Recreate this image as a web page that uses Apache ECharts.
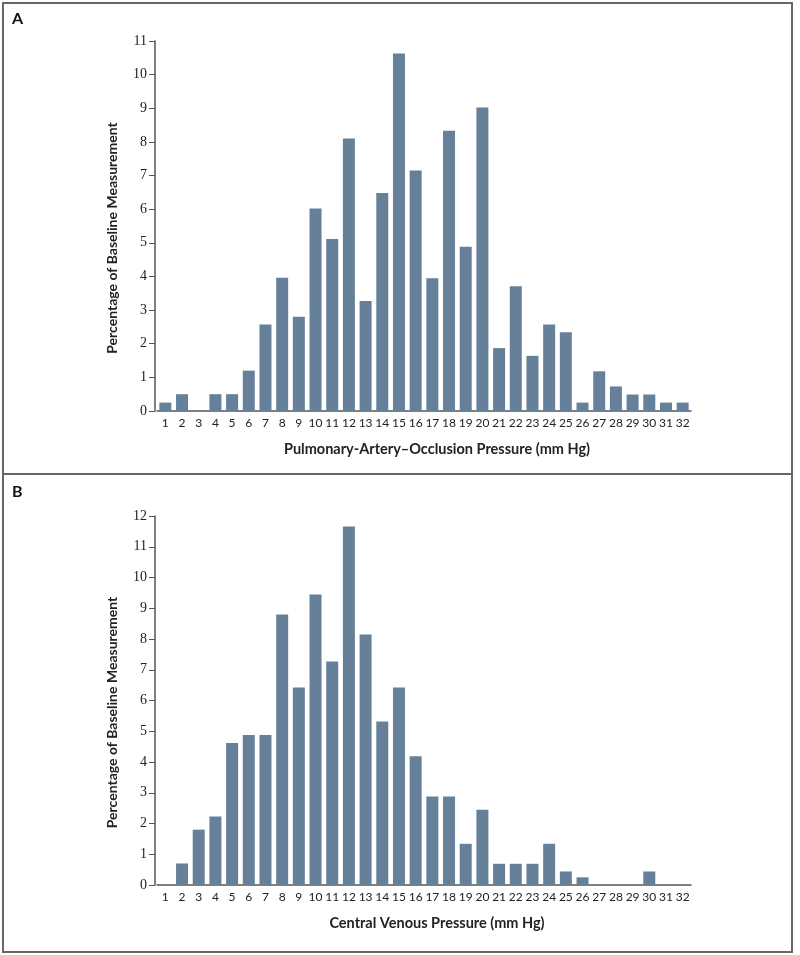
<!DOCTYPE html>
<html lang="en">
<head>
    <meta charset="UTF-8">
    <title>Baseline pressure histograms</title>
    <style>
        body {
            margin: 0;
            background-color: #fff;
        }
    </style>
</head>
<body>
<div id="chart" style="width: 800px;height: 955px;"></div>
<script src="https://cdn.jsdelivr.net/npm/echarts@6/dist/echarts.min.js"></script>
<script>
    /* pressure categories, mm Hg */
    var pressure = ["1","2","3","4","5","6","7","8","9","10","11","12","13","14","15","16",
        "17","18","19","20","21","22","23","24","25","26","27","28","29","30","31","32"];
    /* panel A - pulmonary-artery-occlusion pressure, % of baseline measurements */
    var paop = [0.25, 0.5, 0, 0.5, 0.5, 1.2, 2.57, 3.96, 2.8, 6.02, 5.11, 8.1, 3.27, 6.48, 10.63, 7.15,
        3.95, 8.33, 4.88, 9.02, 1.87, 3.71, 1.64, 2.57, 2.34, 0.25, 1.18, 0.73, 0.49, 0.49, 0.25, 0.25];
    /* panel B - central venous pressure, % of baseline measurements */
    var cvp = [0, 0.7, 1.8, 2.23, 4.62, 4.88, 4.88, 8.8, 6.42, 9.45, 7.27, 11.66, 8.15, 5.32, 6.42, 4.19,
        2.88, 2.88, 1.34, 2.45, 0.69, 0.69, 0.69, 1.34, 0.44, 0.25, 0, 0, 0, 0.44, 0, 0];
    /* y-axis top values */
    var yMaxA = 11;
    var yMaxB = 12;

    var barColor = '#66809a';
    var axisColor = '#555';
    var textColor = '#222';
    var font = 'Lato';

    function xAxisOf(grid, name) {
        return {
            type: 'category',
            gridIndex: grid,
            data: pressure,
            name: name,
            nameLocation: 'middle',
            nameGap: 31,
            nameTextStyle: {
                color: textColor,
                fontFamily: font,
                fontWeight: 'bold',
                fontSize: 14.5,
                padding: [0, 0, 0, 26]
            },
            axisLine: {
                lineStyle: { color: axisColor, width: 1.5 }
            },
            axisTick: {
                alignWithLabel: true,
                length: 5,
                lineStyle: { color: axisColor }
            },
            axisLabel: {
                interval: 0,
                margin: 6,
                color: textColor,
                fontFamily: font,
                fontSize: 12
            }
        };
    }

    function yAxisOf(grid, max) {
        return {
            type: 'value',
            gridIndex: grid,
            min: 0,
            max: max,
            interval: 1,
            offset: 2,
            name: 'Percentage of Baseline Measurement',
            nameLocation: 'middle',
            nameGap: 36,
            nameTextStyle: {
                color: textColor,
                fontFamily: font,
                fontWeight: 'bold',
                fontSize: 14,
                padding: [0, 24, 0, 0]
            },
            axisLine: {
                show: true,
                lineStyle: { color: axisColor, width: 1.5 }
            },
            axisTick: {
                show: true,
                length: 6,
                lineStyle: { color: axisColor }
            },
            axisLabel: {
                margin: 8,
                color: textColor,
                fontFamily: 'Liberation Serif',
                fontSize: 14
            },
            splitLine: { show: false }
        };
    }

    var chart = echarts.init(document.getElementById('chart'));
    var option = {
        animation: false,
        backgroundColor: '#fff',
        /* two stacked panels */
        grid: [
            { left: 157, top: 41, width: 534, height: 370 },
            { left: 157, top: 516, width: 534, height: 369 }
        ],
        xAxis: [
            xAxisOf(0, 'Pulmonary-Artery\u2013Occlusion Pressure (mm Hg)'),
            xAxisOf(1, 'Central Venous Pressure (mm Hg)')
        ],
        yAxis: [
            yAxisOf(0, yMaxA),
            yAxisOf(1, yMaxB)
        ],
        series: [
            {
                type: 'bar',
                xAxisIndex: 0,
                yAxisIndex: 0,
                barWidth: 12,
                itemStyle: { color: barColor },
                data: paop
            },
            {
                type: 'bar',
                xAxisIndex: 1,
                yAxisIndex: 1,
                barWidth: 12,
                itemStyle: { color: barColor },
                data: cvp
            }
        ],
        /* frame, divider and panel letters */
        graphic: [
            {
                type: 'rect',
                shape: { x: 3, y: 3, width: 789, height: 949 },
                style: { fill: 'none', stroke: '#666', lineWidth: 2 }
            },
            {
                type: 'line',
                shape: { x1: 3, y1: 474, x2: 792, y2: 474 },
                style: { stroke: '#666', lineWidth: 2 }
            },
            {
                type: 'text',
                left: 12,
                top: 11,
                style: { text: 'A', fill: '#111', font: 'bold 16px Lato' }
            },
            {
                type: 'text',
                left: 12,
                top: 484,
                style: { text: 'B', fill: '#111', font: 'bold 16px Lato' }
            }
        ]
    };
    chart.setOption(option);
</script>
</body>
</html>
